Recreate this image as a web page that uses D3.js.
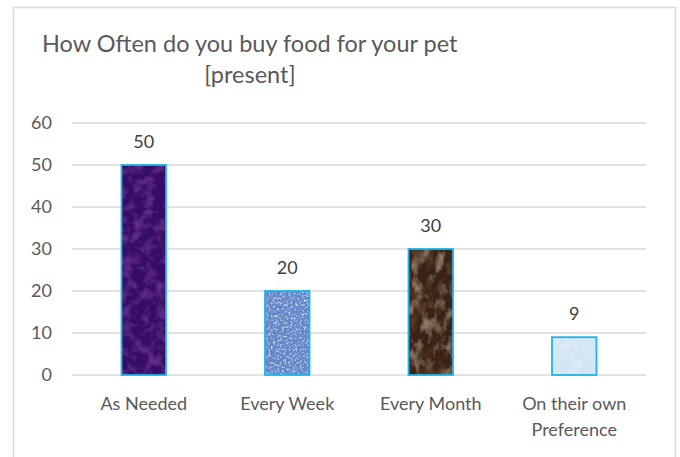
<!DOCTYPE html>
<html><head><meta charset="utf-8">
<script src="https://cdn.jsdelivr.net/npm/d3@7"></script>
<style>body{margin:0;background:#fff}svg{display:block}</style>
</head><body>
<script>
const categories = ["As Needed", "Every Week", "Every Month", "On their own\nPreference"];
const values = [50, 20, 30, 9];
const yTicks = [0, 10, 20, 30, 40, 50, 60];
const titleLines = ["How Often do you buy food for your pet", "[present]"];

const W = 680, H = 457;
const svg = d3.select("body").append("svg").attr("width", W).attr("height", H);
const font = "Lato, 'Open Sans', sans-serif";

// border
svg.append("rect").attr("x", 13.5).attr("y", 7.5).attr("width", 662).attr("height", 460)
  .attr("fill", "#fff").attr("stroke", "#d9d9d9").attr("stroke-width", 1.5);

const defs = svg.append("defs");
function texture(id, base, light, dark, freq, oct, la, da, seed) {
  const f = defs.append("filter").attr("id", id + "f").attr("x", 0).attr("y", 0).attr("width", 1).attr("height", 1);
  f.append("feTurbulence").attr("type", "fractalNoise").attr("baseFrequency", freq).attr("numOctaves", oct).attr("seed", seed).attr("result", "n");
  f.append("feColorMatrix").attr("in", "n").attr("type", "matrix")
    .attr("values", `0 0 0 0 ${light[0]}  0 0 0 0 ${light[1]}  0 0 0 0 ${light[2]}  ${la} 0 0 0 ${-la * 0.5}`).attr("result", "lt");
  f.append("feFlood").attr("flood-color", base).attr("result", "b");
  f.append("feComposite").attr("in", "lt").attr("in2", "b").attr("operator", "over").attr("result", "c1");
  f.append("feColorMatrix").attr("in", "n").attr("type", "matrix")
    .attr("values", `0 0 0 0 ${dark[0]}  0 0 0 0 ${dark[1]}  0 0 0 0 ${dark[2]}  0 ${-da} 0 0 ${da * 0.5}`).attr("result", "dk");
  f.append("feComposite").attr("in", "dk").attr("in2", "c1").attr("operator", "over").attr("result", "c2");
  f.append("feComposite").attr("in", "c2").attr("in2", "SourceGraphic").attr("operator", "in");
  return id + "f";
}
const filters = [
  texture("purple", "#360a68", [0.3, 0.07, 0.5], [0.15, 0.03, 0.26], "0.09", 3, 1.1, 1.6, 7),
  texture("weave", "#6488cc", [0.72, 0.82, 0.98], [0.12, 0.2, 0.45], "0.45 0.45", 3, 2.8, 2.8, 5),
  texture("brown", "#3a2314", [0.47, 0.35, 0.24], [0.13, 0.07, 0.03], "0.09 0.06", 4, 1.8, 2.2, 9),
  texture("ice", "#d3e4f4", [0.93, 0.96, 0.99], [0.74, 0.83, 0.92], "0.1", 2, 1.4, 1.4, 2)
];

const x = d3.scaleBand().domain(categories).range([72, 646]).paddingInner(0.69).paddingOuter(0.345);
const y = d3.scaleLinear().domain([0, 60]).range([375, 123]);

// gridlines
svg.append("g").selectAll("line").data(yTicks).join("line")
  .attr("x1", 72).attr("x2", 646).attr("y1", d => y(d)).attr("y2", d => y(d))
  .attr("stroke", "#d9d9d9").attr("stroke-width", 1.5);

// y axis labels
const yAxis = svg.append("g").attr("transform", "translate(52,0)")
  .call(d3.axisLeft(y).tickValues(yTicks).tickSize(0).tickPadding(0));
yAxis.select(".domain").remove();
yAxis.selectAll("text").attr("font-family", font).attr("font-size", 18).attr("fill", "#595959");

// bars
const bars = svg.append("g");
categories.forEach((c, i) => {
  const bx = x(c), bw = x.bandwidth(), by = y(values[i]), bh = y(0) - y(values[i]);
  bars.append("rect").attr("x", bx).attr("y", by).attr("width", bw).attr("height", bh)
    .attr("fill", "#888").attr("filter", `url(#${filters[i]})`);
  bars.append("rect").attr("x", bx).attr("y", by).attr("width", bw).attr("height", bh)
    .attr("fill", "none").attr("stroke", "#1cb4ea").attr("stroke-width", 1.8);
});

// value labels
svg.append("g").selectAll("text").data(values).join("text")
  .attr("x", (d, i) => x(categories[i]) + x.bandwidth() / 2)
  .attr("y", d => y(d) - 17)
  .attr("text-anchor", "middle").attr("font-family", font).attr("font-size", 18).attr("fill", "#404040")
  .text(d => d);

// x axis labels
const xAxis = svg.append("g").attr("transform", "translate(0,375)")
  .call(d3.axisBottom(x).tickSize(0).tickPadding(0).tickFormat(() => ""));
xAxis.select(".domain").remove();
xAxis.selectAll(".tick").each(function(d) {
  const t = d3.select(this).select("text").text(null)
    .attr("font-family", font).attr("font-size", 18).attr("fill", "#595959").attr("y", 0).attr("dy", 0);
  d.split("\n").forEach((ln, k) => t.append("tspan").attr("x", 0).attr("y", 35 + k * 26).text(ln));
});

// title
svg.append("text").attr("x", 42).attr("y", 52).attr("font-family", font).attr("font-size", 23.5).attr("fill", "#595959").text(titleLines[0]);
svg.append("text").attr("x", 250).attr("y", 83).attr("text-anchor", "middle").attr("font-family", font).attr("font-size", 23.5).attr("fill", "#595959").text(titleLines[1]);
</script>
</body></html>
